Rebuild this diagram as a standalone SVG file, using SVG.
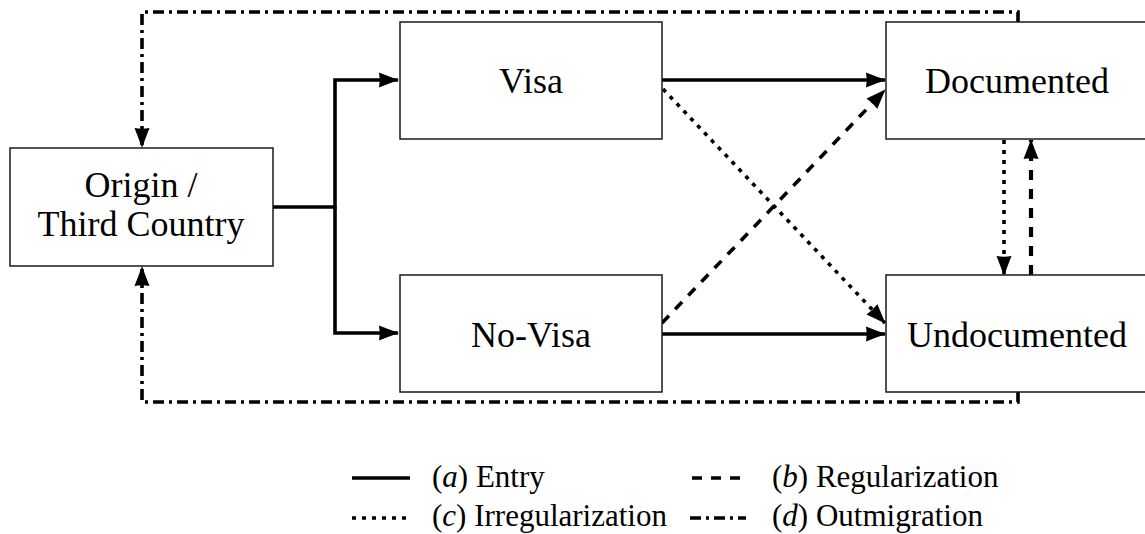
<svg xmlns="http://www.w3.org/2000/svg" width="1145" height="534" viewBox="0 0 1145 534">
  <style>
    .box { fill: #ffffff; stroke: #1a1a1a; stroke-width: 1.5; }
    .label { font-size: 36px; fill: #000; text-anchor: middle; }
    .legend { font-size: 31px; fill: #000; }
    .conn { fill: none; stroke: #000; stroke-width: 3.6; }
    .regular { stroke-dasharray: 10 9; }
    .irregular { stroke-dasharray: 4 6; }
    .outmig { stroke-dasharray: 11 5 3 5; }
  </style>
  <defs>
    <!-- latex-style filled arrowhead -->
    <marker id="arrow" viewBox="0 0 20 16" refX="19" refY="8" markerWidth="20" markerHeight="16" markerUnits="userSpaceOnUse" orient="auto">
      <path d="M0,0.5 Q10,4.5 20,8 Q10,11.5 0,15.5 Q1.5,8 0,0.5 Z" fill="#000"/>
    </marker>
  </defs>

  <!-- connectors -->
  <g id="connectors">
    <!-- (a) entry -->
    <path class="conn" d="M273,207 H335 V80 H398" marker-end="url(#arrow)"/>
    <path class="conn" d="M335,207 V333 H398" marker-end="url(#arrow)"/>
    <path class="conn" d="M662,80 H885" marker-end="url(#arrow)"/>
    <path class="conn" d="M662,334 H885" marker-end="url(#arrow)"/>
    <!-- (c) irregularization -->
    <path class="conn irregular" d="M663,89 L885,323" marker-end="url(#arrow)"/>
    <path class="conn irregular" d="M1004,140 V275" marker-end="url(#arrow)"/>
    <!-- (b) regularization -->
    <path class="conn regular" d="M662,323 L885,90" marker-end="url(#arrow)"/>
    <path class="conn regular" d="M1031,275 V140" style="stroke-width:4.2" marker-end="url(#arrow)"/>
    <!-- (d) outmigration -->
    <path class="conn outmig" d="M1018,22 V12 H142 V147" marker-end="url(#arrow)"/>
    <path class="conn outmig" d="M1018,392 V402 H142 V267" marker-end="url(#arrow)"/>
  </g>

  <!-- nodes -->
  <g id="origin" font-family="Liberation Serif, DejaVu Serif, serif">
    <rect class="box" x="10" y="148" width="263" height="118"/>
    <text class="label" x="141" y="197">Origin /</text>
    <text class="label" x="141" y="236">Third Country</text>
  </g>
  <g id="visa" font-family="Liberation Serif, DejaVu Serif, serif">
    <rect class="box" x="400" y="22" width="262" height="117"/>
    <text class="label" x="531" y="93">Visa</text>
  </g>
  <g id="novisa" font-family="Liberation Serif, DejaVu Serif, serif">
    <rect class="box" x="400" y="275" width="262" height="117"/>
    <text class="label" x="531" y="347">No-Visa</text>
  </g>
  <g id="documented" font-family="Liberation Serif, DejaVu Serif, serif">
    <rect class="box" x="886" y="22" width="263" height="117"/>
    <text class="label" x="1017" y="93">Documented</text>
  </g>
  <g id="undocumented" font-family="Liberation Serif, DejaVu Serif, serif">
    <rect class="box" x="886" y="275" width="263" height="117"/>
    <text class="label" x="1017" y="347">Undocumented</text>
  </g>

  <!-- legend -->
  <g id="legend" font-family="Liberation Serif, DejaVu Serif, serif">
    <path class="conn" d="M352,478 H410"/>
    <text class="legend" x="432" y="487">(<tspan font-style="italic">a</tspan>) Entry</text>
    <path class="conn regular" d="M692,478 H742"/>
    <text class="legend" x="772" y="487">(<tspan font-style="italic">b</tspan>) Regularization</text>
    <path class="conn irregular" d="M352,518 H408"/>
    <text class="legend" x="432" y="526">(<tspan font-style="italic">c</tspan>) Irregularization</text>
    <path class="conn outmig" d="M690,518 H746"/>
    <text class="legend" x="772" y="526">(<tspan font-style="italic">d</tspan>) Outmigration</text>
  </g>
</svg>
